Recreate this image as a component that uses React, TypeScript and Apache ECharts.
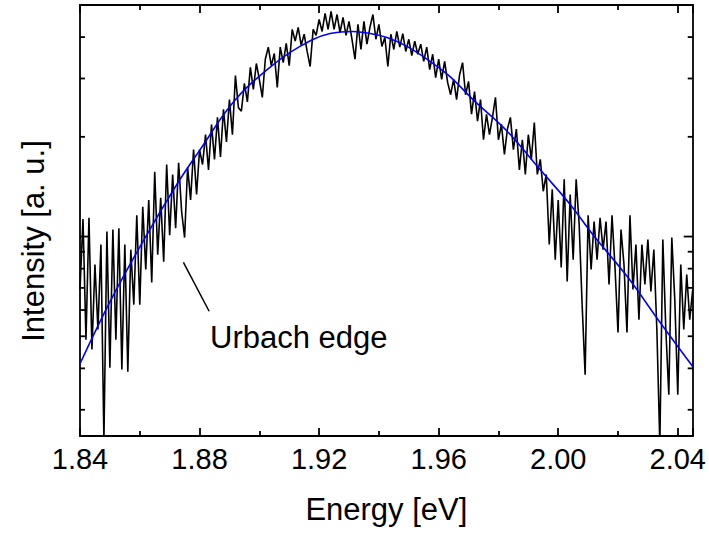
import React, { useEffect, useRef } from "react";
import * as echarts from "echarts";

// ---- axis ranges and ticks ----
const X_MIN = 1.84;
const X_MAX = 2.045;
const X_TICK_STEP = 0.04;
const Y_MIN = 2.5;
const Y_MAX = 50;
const Y_MINOR_TICKS = [3, 4, 5, 6, 7, 8, 9, 20, 30, 40];
const Y_MAJOR_TICKS = [10];

const X_TITLE = "Energy [eV]";
const Y_TITLE = "Intensity [a. u.]";

// ---- measured spectrum (energy grid start/step, intensity values) ----
const ENERGY_START = 1.84;
const ENERGY_STEP = 0.001;
const intensity = [
  6.92, 11.3, 4.88, 11.4, 4.56, 8.23, 5.24, 9.46, 2.43, 10.35,
  4.02, 10.5, 4.88, 10.6, 3.97, 9.46, 3.91, 9.13, 6.23, 11.6,
  6.23, 12.3, 7.95, 12.9, 7.27, 15.7, 8.82, 13.1, 8.4, 16.5,
  10.1, 15.4, 10.6, 16.7, 11.9, 9.93, 16.2, 12.9, 18.3, 13.4,
  18.3, 16.5, 20.3, 15.9, 21.8, 17.1, 22.9, 17.4, 24.2, 19.3,
  25.9, 20.3, 30.6, 24.5, 23.9, 29.0, 25.5, 32.4, 27.8, 33.3,
  29.8, 26.3, 34.3, 37.3, 32.8, 35.7, 28.2, 37.3, 33.5, 38.3,
  32.8, 42.2, 38.9, 42.8, 37.8, 40.8, 36.2, 32.6, 42.2, 40.5,
  45.2, 41.6, 47.2, 42.2, 47.8, 42.2, 46.8, 41.3, 45.9, 40.5,
  44.6, 39.4, 34.3, 43.7, 36.7, 44.6, 38.1, 42.8, 46.8, 39.4,
  43.7, 37.5, 39.9, 32.6, 40.8, 36.7, 41.6, 37.3, 41.0, 36.2,
  39.4, 35.2, 38.9, 35.5, 38.1, 33.8, 37.3, 31.9, 35.5, 30.2,
  34.3, 29.8, 33.8, 29.2, 26.8, 29.8, 25.9, 30.8, 33.5, 26.8,
  29.4, 23.4, 27.4, 22.3, 25.9, 19.6, 23.4, 20.3, 22.9, 26.3,
  19.6, 21.8, 17.7, 21.1, 22.9, 18.3, 21.1, 15.9, 19.6, 15.4,
  20.3, 17.1, 22.1, 15.4, 17.1, 13.7, 15.4, 9.46, 13.9, 8.52,
  12.9, 8.06, 14.9, 7.32, 13.4, 8.52, 14.9, 10.9, 6.23, 3.83,
  11.6, 7.95, 11.1, 8.52, 11.4, 9.13, 11.1, 7.17, 11.6, 8.06,
  5.13, 10.5, 8.23, 5.13, 11.6, 6.92, 9.46, 5.61, 9.46, 7.17,
  9.8, 6.83, 9.13, 5.24, 2.35, 9.8, 5.24, 3.33, 9.93, 6.45,
  3.33, 8.23, 5.24, 7.68, 5.61, 6.92,
];

// ---- fit curve ----
const fitEnergy = [
  1.84, 1.8504, 1.8618, 1.8728, 1.8802, 1.8912, 1.9026, 1.9136, 1.9237, 1.9314,
  1.9371, 1.9427, 1.9494, 1.9571, 1.9638, 1.9715, 1.9829, 1.994, 2.004, 2.0117,
  2.0231, 2.0341, 2.045,
];
const fitIntensity = [
  4.13, 6.45, 9.93, 14.56, 18.3, 25.4, 31.9, 37.5, 41.0, 41.6,
  41.0, 39.9, 37.5, 33.8, 30.4, 25.9, 20.8, 15.9, 12.5, 10.1,
  7.57, 5.5, 4.05,
];

// ---- annotation (data coordinates) ----
const ANNOT_TEXT = "Urbach edge";
const annotLine = [1.8746, 8.36, 1.8832, 5.95];
const annotTextAt = [1.8835, 4.46];

const FONT = "'Liberation Sans', Arial, Helvetica, sans-serif";

export default function App() {
  const ref = useRef<HTMLDivElement>(null);

  useEffect(() => {
    if (!ref.current) return;
    const chart = echarts.init(ref.current, undefined, { renderer: "svg" });

    const energy = intensity.map((_, i) => +(ENERGY_START + i * ENERGY_STEP).toFixed(4));
    const spectrum = energy.map((e, i) => [e, intensity[i]]);
    const fit = fitEnergy.map((e, i) => [e, fitIntensity[i]]);

    const lineStyleAxis = { color: "#000", width: 1.8 };
    const xCommon: any = {
      type: "value",
      min: X_MIN,
      max: X_MAX,
      interval: X_TICK_STEP,
      axisLine: { show: true, onZero: false, lineStyle: lineStyleAxis },
      axisTick: { show: true, inside: true, length: 8, lineStyle: lineStyleAxis },
      minorTick: { show: true, splitNumber: 2, length: 5, lineStyle: lineStyleAxis },
      splitLine: { show: false },
      minorSplitLine: { show: false },
    };
    const yCommon: any = {
      type: "log",
      logBase: 10,
      min: Y_MIN,
      max: Y_MAX,
      axisLine: { show: true, onZero: false, lineStyle: lineStyleAxis },
      axisTick: { show: false },
      axisLabel: { show: false },
      splitLine: { show: false },
    };

    const tickData = [
      ...Y_MINOR_TICKS.map((v) => [X_MIN, v, 0]),
      ...Y_MAJOR_TICKS.map((v) => [X_MIN, v, 1]),
    ];

    chart.setOption({
      animation: false,
      backgroundColor: "#fff",
      grid: { left: 80, top: 5, right: 16, bottom: 98, containLabel: false },
      xAxis: [
        {
          ...xCommon,
          position: "bottom",
          name: X_TITLE,
          nameLocation: "middle",
          nameGap: 58,
          nameTextStyle: { fontSize: 31, color: "#000", fontFamily: FONT },
          axisLabel: {
            show: true,
            margin: 8,
            fontSize: 29,
            color: "#000",
            fontFamily: FONT,
            formatter: (v: number) => {
              const k = (v - X_MIN) / X_TICK_STEP;
              return Math.abs(k - Math.round(k)) < 1e-6 ? v.toFixed(2) : "";
            },
          },
        },
        { ...xCommon, position: "top", axisLabel: { show: false } },
      ],
      yAxis: [
        { ...yCommon, position: "left" },
        { ...yCommon, position: "right" },
      ],
      graphic: [
        {
          type: "text",
          x: 33,
          y: 241,
          rotation: Math.PI / 2,
          style: {
            text: Y_TITLE,
            fontSize: 31,
            fontFamily: FONT,
            fill: "#000",
            align: "center",
            verticalAlign: "middle",
          },
        },
      ],
      series: [
        {
          type: "line",
          data: spectrum,
          showSymbol: false,
          symbol: "none",
          lineStyle: { color: "#000", width: 1.6 },
          z: 2,
          clip: true,
        },
        {
          type: "line",
          data: fit,
          showSymbol: false,
          symbol: "none",
          smooth: 0.4,
          lineStyle: { color: "#0000ff", width: 1.6 },
          z: 3,
          clip: true,
        },
        {
          type: "custom",
          silent: true,
          z: 5,
          data: tickData,
          renderItem: (_p: any, api: any) => {
            const v = api.value(1);
            const l = api.coord([X_MIN, v]);
            const r = api.coord([X_MAX, v]);
            const len = api.value(2) ? 9 : 5;
            return {
              type: "group",
              children: [
                { type: "line", shape: { x1: l[0], y1: l[1], x2: l[0] + len, y2: l[1] }, style: { stroke: "#000", lineWidth: 1.8 } },
                { type: "line", shape: { x1: r[0], y1: r[1], x2: r[0] - len, y2: r[1] }, style: { stroke: "#000", lineWidth: 1.8 } },
              ],
            };
          },
        },
        {
          type: "custom",
          silent: true,
          z: 6,
          data: [annotLine],
          renderItem: (_p: any, api: any) => {
            const a = api.coord([api.value(0), api.value(1)]);
            const b = api.coord([api.value(2), api.value(3)]);
            return {
              type: "line",
              shape: { x1: a[0], y1: a[1], x2: b[0], y2: b[1] },
              style: { stroke: "#000", lineWidth: 1.5 },
            };
          },
        },
        {
          type: "custom",
          silent: true,
          z: 6,
          data: [annotTextAt],
          renderItem: (_p: any, api: any) => {
            const p = api.coord([api.value(0), api.value(1)]);
            return {
              type: "text",
              x: p[0],
              y: p[1],
              style: {
                text: ANNOT_TEXT,
                fontSize: 31,
                fontFamily: FONT,
                fill: "#000",
                align: "left",
                verticalAlign: "bottom",
              },
            };
          },
        },
      ],
    });

    return () => chart.dispose();
  }, []);

  return (
    <div
      ref={ref}
      style={{ position: "fixed", left: 0, top: 0, width: 709, height: 534, background: "#fff" }}
    />
  );
}
